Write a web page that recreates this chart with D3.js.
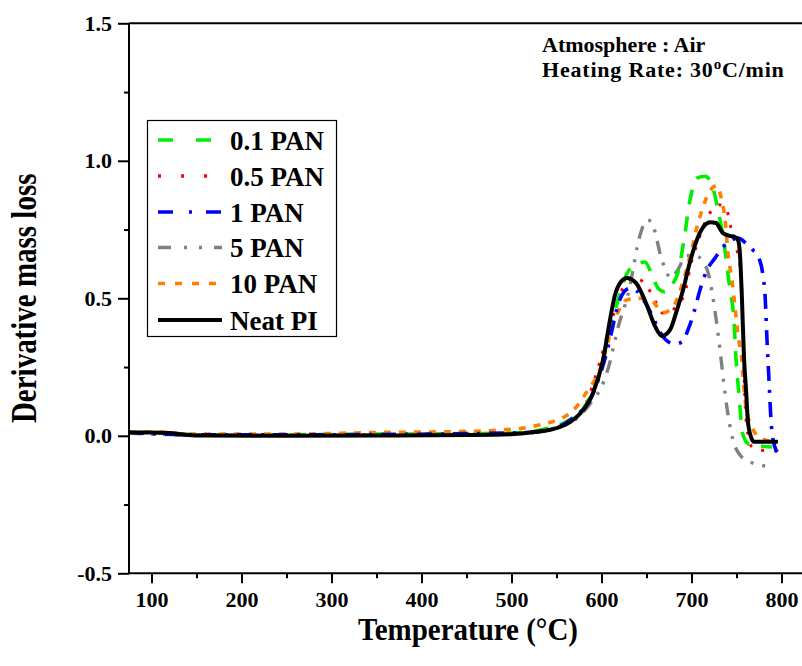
<!DOCTYPE html>
<html>
<head>
<meta charset="utf-8">
<script src="https://cdnjs.cloudflare.com/ajax/libs/d3/7.8.5/d3.min.js"></script>
<style>
  html, body { margin: 0; padding: 0; background: #fff; }
  svg text { font-family: "Liberation Serif", "Times New Roman", serif; font-weight: bold; fill: #000; }
</style>
</head>
<body>
<svg id="chart" width="802" height="666"></svg>
<script>
// ---------- data ----------
const seriesNames = ["0.1 PAN", "0.5 PAN", "1 PAN", "5 PAN", "10 PAN", "Neat PI"];

const pan01T = [75, 120, 150, 250, 350, 450, 500, 530, 560, 580, 595, 609.4, 620.6, 629.4, 640.6, 648.3, 656.1, 662.8, 670.6, 678.3, 685, 691.7, 698.3, 706.1, 715, 722.8, 728.3, 736.1, 742.8, 747.2, 749.4, 752.8, 756.7, 763.3, 776, 789.4];
const pan01V = [0.012, 0.01, 0.004, 0.004, 0.006, 0.008, 0.01, 0.02, 0.05, 0.1, 0.2, 0.378, 0.52, 0.596, 0.625, 0.632, 0.585, 0.537, 0.523, 0.548, 0.595, 0.712, 0.857, 0.937, 0.944, 0.912, 0.839, 0.701, 0.53, 0.421, 0.283, 0.148, 0.01, -0.03, -0.037, -0.041];

const pan05T = [75, 120, 150, 250, 350, 450, 500, 540, 560, 580, 598.3, 609.4, 618.3, 627.8, 636.7, 646.1, 657.2, 667.2, 676.1, 683.9, 692.8, 698.3, 707.2, 715, 722.8, 730.6, 738.3, 743.9, 750.6, 755, 757.2, 759.4, 762.8, 767.2, 776, 796.3];
const pan05V = [0.012, 0.01, 0.003, 0.002, 0.004, 0.006, 0.01, 0.022, 0.045, 0.1, 0.27, 0.4, 0.49, 0.56, 0.574, 0.56, 0.508, 0.447, 0.45, 0.475, 0.52, 0.61, 0.705, 0.777, 0.821, 0.84, 0.828, 0.755, 0.676, 0.585, 0.385, 0.13, 0.003, -0.04, -0.052, -0.055];

const pan1T = [75, 140, 300, 450, 520, 550, 570, 587, 598.3, 605, 611.7, 618.3, 625, 631.7, 639.4, 648.3, 656.1, 665, 672.8, 681.7, 689.4, 696.1, 702.8, 709.4, 717.2, 726.1, 735, 743.9, 751.7, 760.6, 768.4, 775, 779.4, 781.7, 783.9, 786.1, 788.3, 790.6, 796.1];
const pan1V = [0.012, 0.004, 0.004, 0.008, 0.012, 0.03, 0.07, 0.13, 0.221, 0.294, 0.385, 0.476, 0.523, 0.537, 0.526, 0.486, 0.439, 0.377, 0.345, 0.334, 0.341, 0.385, 0.45, 0.53, 0.603, 0.646, 0.686, 0.712, 0.719, 0.7, 0.675, 0.646, 0.584, 0.512, 0.348, 0.203, 0.058, -0.015, -0.063];

const pan5T = [75, 140, 300, 450, 520, 550, 570.6, 587.2, 602.8, 609.4, 615, 620.6, 626.1, 630.6, 635, 639.4, 643.9, 650.6, 656.1, 660.3, 664.7, 670.3, 677, 684.7, 693.9, 703.9, 712.8, 718.3, 722.8, 727.2, 731.7, 736.1, 740.6, 746.1, 753.9, 765, 776, 787.2];
const pan5V = [0.01, 0.003, 0.003, 0.006, 0.01, 0.03, 0.058, 0.116, 0.2, 0.268, 0.348, 0.42, 0.475, 0.53, 0.603, 0.683, 0.741, 0.785, 0.777, 0.73, 0.668, 0.61, 0.574, 0.603, 0.654, 0.657, 0.632, 0.595, 0.523, 0.428, 0.312, 0.185, 0.076, -0.015, -0.07, -0.095, -0.106, -0.113];

const pan10T = [75, 110, 140, 250, 350, 450, 512.8, 531.7, 546.1, 561.7, 573.9, 585, 598.3, 607.2, 612.8, 618.3, 627.8, 643.9, 657.2, 668.3, 679.4, 690.6, 701.7, 706.1, 711.7, 717.2, 722.8, 728.3, 733.9, 737.2, 740.6, 745, 748.3, 750.2, 752.8, 755.8, 757.2, 761.2, 767.2, 776, 792];
const pan10V = [0.014, 0.014, 0.006, 0.006, 0.012, 0.016, 0.028, 0.04, 0.052, 0.075, 0.112, 0.167, 0.24, 0.34, 0.415, 0.45, 0.494, 0.5, 0.487, 0.447, 0.468, 0.56, 0.698, 0.76, 0.82, 0.87, 0.9, 0.91, 0.85, 0.79, 0.66, 0.565, 0.468, 0.41, 0.341, 0.283, 0.214, 0.094, 0.032, -0.008, -0.022];

const neatT = [75, 100, 120, 140, 160, 250, 350, 450, 500, 520, 540, 554, 565, 576, 590.6, 601.7, 609.4, 615, 621.7, 628.3, 638.3, 649.4, 659.4, 667.2, 676.1, 683.9, 690.6, 698.3, 707.2, 713.9, 720.6, 727.2, 735, 742.8, 748.3, 751.7, 753.9, 756.1, 758.3, 760.6, 762.8, 766.1, 769.4, 796];
const neatV = [0.012, 0.012, 0.01, 0.003, 0.001, 0.0, 0.001, 0.003, 0.006, 0.012, 0.02, 0.032, 0.05, 0.08, 0.156, 0.276, 0.421, 0.512, 0.56, 0.574, 0.556, 0.483, 0.399, 0.363, 0.385, 0.458, 0.53, 0.632, 0.723, 0.763, 0.777, 0.774, 0.737, 0.727, 0.723, 0.712, 0.658, 0.494, 0.287, 0.167, 0.047, -0.004, -0.022, -0.022];

const xTickValues = [100, 200, 300, 400, 500, 600, 700, 800];
const yTickLabels = ["-0.5", "0.0", "0.5", "1.0", "1.5"];
const yTickValues = [-0.5, 0.0, 0.5, 1.0, 1.5];
const annotationLines = ["Atmosphere : Air", "Heating Rate: 30", "C/min"];
const xTitle = "Temperature (°C)";
const yTitle = "Derivative mass loss";

// ---------- styles ----------
const styles = [
  { color: "#00ee00", dash: "15,12", width: 3.6, legendDash: "15,23" },
  { color: "#ff0000", dash: "3,10", width: 3, legendDash: "3,20" },
  { color: "#0000ff", dash: "15,9,3,9", width: 3.6, legendDash: "15,16,3,14" },
  { color: "#808080", dash: "13,9,3,9,3,9", width: 3.4, legendDash: "13,13,3,12,3,12" },
  { color: "#ff8000", dash: "7,8", width: 3.6, legendDash: "7,10" },
  { color: "#000000", dash: null, width: 4, legendDash: null }
];
const seriesT = [pan01T, pan05T, pan1T, pan5T, pan10T, neatT];
const seriesV = [pan01V, pan05V, pan1V, pan5V, pan10V, neatV];

// ---------- layout ----------
const svg = d3.select("#chart");
const mLeft = 129, mTop = 23.3, mBottom = 573.3, mRight = 804;
const x = d3.scaleLinear().domain([75, 75 + (mRight - mLeft) / 0.9]).range([mLeft, mRight]);
const y = d3.scaleLinear().domain([-0.5, 1.5]).range([mBottom, mTop]);

svg.append("defs").append("clipPath").attr("id", "clip")
  .append("rect").attr("x", mLeft).attr("y", mTop).attr("width", mRight - mLeft).attr("height", mBottom - mTop);

// curves
const line = d3.line().x(d => x(d[0])).y(d => y(d[1])).curve(d3.curveMonotoneX);
const plot = svg.append("g").attr("clip-path", "url(#clip)");
const order = [3, 1, 0, 4, 2, 5];
order.forEach(i => {
  const pts = seriesT[i].map((t, k) => [t, seriesV[i][k]]);
  plot.append("path").datum(pts)
    .attr("d", line)
    .attr("fill", "none")
    .attr("stroke", styles[i].color)
    .attr("stroke-width", styles[i].width)
    .attr("stroke-dasharray", styles[i].dash)
    .attr("stroke-linejoin", "round");
});

// axes
const xAxis = d3.axisBottom(x).tickValues(xTickValues).tickSize(10).tickPadding(8).tickFormat(d3.format("d"));
const xMinor = d3.axisBottom(x).tickValues(d3.range(150, 851, 100)).tickSize(5).tickFormat("");
const yAxis = d3.axisLeft(y).tickValues(yTickValues).tickSize(11).tickPadding(6).tickFormat((d, i) => yTickLabels[i]);
const yMinor = d3.axisLeft(y).tickValues([-0.25, 0.25, 0.75, 1.25]).tickSize(5).tickFormat("");

function styleAxis(g) {
  g.select(".domain").remove();
  g.selectAll("line").attr("stroke", "#000").attr("stroke-width", 2);
  g.selectAll("text").attr("font-size", 22).attr("font-family", "Liberation Serif, serif").attr("font-weight", "bold");
}
function dropEmptyText(g) { g.selectAll("text").remove(); }
svg.append("g").attr("transform", `translate(0,${mBottom})`).call(xAxis).call(styleAxis);
svg.append("g").attr("transform", `translate(0,${mBottom})`).call(xMinor).call(styleAxis).call(dropEmptyText);
svg.append("g").attr("transform", `translate(${mLeft},0)`).call(yAxis).call(styleAxis);
svg.append("g").attr("transform", `translate(${mLeft},0)`).call(yMinor).call(styleAxis).call(dropEmptyText);

// frame lines
svg.append("line").attr("x1", mLeft).attr("x2", 802).attr("y1", mBottom).attr("y2", mBottom).attr("stroke", "#000").attr("stroke-width", 2);
svg.append("line").attr("x1", mLeft).attr("x2", 802).attr("y1", mTop).attr("y2", mTop).attr("stroke", "#000").attr("stroke-width", 2);
svg.append("line").attr("x1", mLeft).attr("x2", mLeft).attr("y1", mTop).attr("y2", mBottom).attr("stroke", "#000").attr("stroke-width", 2);

// titles (glyphs slightly taller than wide, as in the reference)
svg.append("text").attr("transform", "translate(468,640) scale(1,1.12)").attr("text-anchor", "middle").attr("font-size", 29).text(xTitle);
svg.append("text").attr("transform", `translate(36,${(mTop + mBottom) / 2}) rotate(-90) scale(1,1.2)`).attr("text-anchor", "middle").attr("font-size", 29).text(yTitle);

// annotation
svg.append("text").attr("x", 542).attr("y", 52).attr("font-size", 22).text(annotationLines[0]);
const hr = svg.append("text").attr("x", 542).attr("y", 77).attr("font-size", 22).attr("letter-spacing", 0.8);
hr.append("tspan").text(annotationLines[1]);
hr.append("tspan").attr("font-size", 15).attr("dy", -8).text("o");
hr.append("tspan").attr("dy", 8).text(annotationLines[2]);

// legend
const lg = svg.append("g");
lg.append("rect").attr("x", 147.5).attr("y", 120.5).attr("width", 189).attr("height", 216).attr("fill", "#fff").attr("stroke", "#000").attr("stroke-width", 1.2);
const rowY = [140, 176, 212, 247.5, 283.5, 320];
seriesNames.forEach((name, i) => {
  lg.append("line").attr("x1", 158).attr("x2", 222).attr("y1", rowY[i]).attr("y2", rowY[i])
    .attr("stroke", styles[i].color).attr("stroke-width", i === 5 ? 4 : 3.6)
    .attr("stroke-dasharray", styles[i].legendDash);
  lg.append("text").attr("x", 230).attr("y", rowY[i] + 9.5).attr("font-size", 27).text(name);
});
</script>
</body>
</html>
